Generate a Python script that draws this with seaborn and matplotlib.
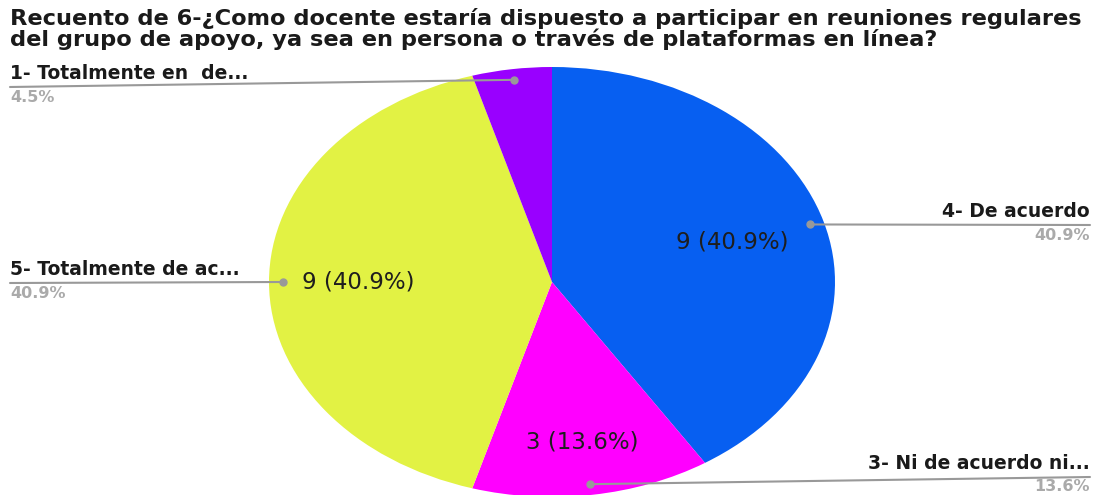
import numpy as np
import matplotlib
matplotlib.use("Agg")
import matplotlib.pyplot as plt
import seaborn as sns

sns.set_theme(style="white")
plt.rcParams['font.family'] = ['DejaVu Sans']

title = ("Recuento de 6-¿Como docente estaría dispuesto a participar en reuniones regulares\n"
         "del grupo de apoyo, ya sea en persona o través de plataformas en línea?")
categories = ["4- De acuerdo", "3- Ni de acuerdo ni...", "5- Totalmente de ac...", "1- Totalmente en  de..."]
counts = [9, 3, 9, 1]
colors = ["#075ff1", "#ff00ff", "#e2f244", "#9900ff"]

W, H = 1098, 495
fig = plt.figure(figsize=(W / 100, H / 100), dpi=100)
# pie ellipse: center (552, 282) px, radii 283 x 215 (top-left origin)
cx, cy, rx, ry = 552, 282, 283, 215
ax = fig.add_axes([(cx - rx) / W, (H - cy - ry) / H, 2 * rx / W, 2 * ry / H])

total = sum(counts)
wedges, _ = ax.pie(counts, colors=colors, startangle=90, counterclock=False,
                   radius=1, wedgeprops=dict(linewidth=0))
ax.set_aspect('auto')
ax.set_xlim(-1, 1)
ax.set_ylim(-1, 1)
ax.axis('off')

# inner labels
inner_r = [0.665, 0.75, 0.685, None]
for w, c, r in zip(wedges, counts, inner_r):
    if r is None:
        continue
    mid = np.deg2rad((w.theta1 + w.theta2) / 2)
    ax.text(r * np.cos(mid), r * np.sin(mid), f"{c} ({c / total * 100:.1f}%)",
            ha='center', va='center', fontsize=16.5, color='#1e1e1e')

# outer labels: (text anchor x px, line end y px, side, pct gap)
outer = [(1090, 225, 'right', 3), (1090, 477, 'right', 2), (10, 283, 'left', 3), (10, 87, 'left', 3)]
for w, c, name, (tx, ly, side, gap) in zip(wedges, counts, categories, outer):
    mid = np.deg2rad((w.theta1 + w.theta2) / 2)
    dx, dy = 0.95 * np.cos(mid), 0.95 * np.sin(mid)
    ax.plot([dx], [dy], 'o', color='#999999', markersize=5, clip_on=False, zorder=5)
    ax.annotate("", xy=(dx, dy), xycoords='data', xytext=(tx, H - ly), textcoords='figure pixels',
                arrowprops=dict(arrowstyle='-', color='#999999', lw=1.5, shrinkA=0, shrinkB=0))
    fig.text(tx / W, (H - ly + 4) / H, name, ha=side, va='bottom', fontsize=13.5,
             fontweight='bold', color='#1a1a1a')
    fig.text(tx / W, (H - ly - gap) / H, f"{c / total * 100:.1f}%", ha=side, va='top',
             fontsize=11.5, fontweight='bold', color='#aaaaaa')

fig.text(10 / W, 1 - 8 / H, title, ha='left', va='top', fontsize=16.2, fontweight='bold',
         color='#1a1a1a', linespacing=0.95)

fig.savefig("out.png", dpi=100)
